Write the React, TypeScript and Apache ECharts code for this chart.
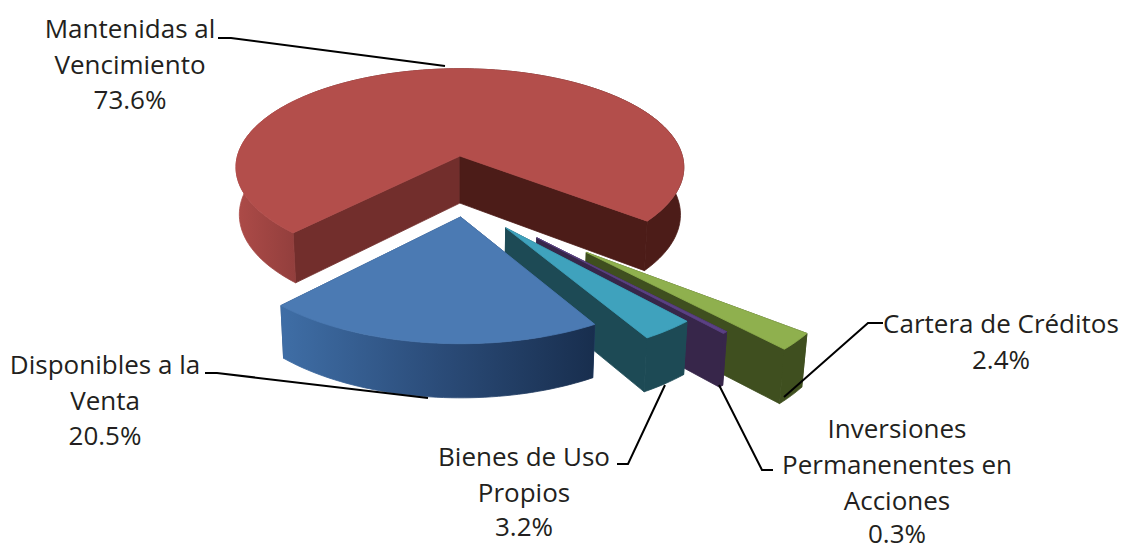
import React, { useEffect, useRef } from "react";
import * as echarts from "echarts";

const categories = [
  "Disponibles a la\nVenta",
  "Bienes de Uso\nPropios",
  "Inversiones\nPermanenentes en\nAcciones",
  "Cartera de Créditos",
  "Mantenidas al\nVencimiento",
];
const values = [20.5, 3.2, 0.3, 2.4, 73.6];

// pie styling, same order as categories
const explosion = [0.155, 0.307, 0.451, 0.668, 0.42];
const sideNudge = [0, -0.015, -0.015, -0.01, 0.009];
const drawOrder = [4, 3, 2, 1, 0];
const topColors = ["#4B7AB3", "#3FA2BD", "#5B4184", "#8FB04E", "#B34E4B"];
const wallColors = ["#2D4E7C", "#1D4A55", "#37264A", "#3F4F1F", "#4C1C18"];
const innerWallColors = ["#2D4E7C", "#1D4A55", "#37264A", "#3F4F1F", "#722E2C"];
const rimStops: [number, string][][] = [
  [[0, "#3F6EA6"], [0.5, "#2B4C79"], [1, "#182E4E"]],
  [[0, "#1D4A55"], [1, "#1D4A55"]],
  [[0, "#37264A"], [1, "#37264A"]],
  [[0, "#3F4F1F"], [1, "#3F4F1F"]],
  [[0, "#AD4B48"], [0.13, "#933F3D"], [0.2, "#722E2C"], [0.9, "#4C1C18"], [1, "#4C1C18"]],
];
const startAngle = -43.5;
const centre = [0.02, 0.42];

// projection of the tilted disc
const originX = 460;
const originY = 156;
const scale = 227;
const radius = 0.98;
const tilt = 0.437;
const perspective = 0.115;
const depth = 47;

// label layout
const labelBoxes = [
  { x: 105, y: 346, pct: 435 },
  { x: 524, y: 438, pct: 526 },
  { x: 897, y: 410, pct: 533 },
  { x: 1001, y: 305, pct: 359 },
  { x: 130, y: 10, pct: 99 },
];
const leaderLines = [
  [[205, 373], [217, 373], [428, 398]],
  [[617, 464], [628, 464], [665, 385]],
  [[773, 470], [762, 470], [719, 385]],
  [[883, 323], [868, 323], [784, 397]],
  [[218, 38], [231, 38], [445, 66]],
];
const FONT = '"Open Sans", "Noto Sans", sans-serif';

const rad = (d: number) => (d * Math.PI) / 180;

function project(X: number, Y: number, bottom: boolean): number[] {
  const f = 1 / (1 - perspective * Y);
  let sx = originX + scale * X * f;
  let sy = originY + scale * tilt * Y * f;
  if (bottom) {
    sx = originX + (sx - originX) * 0.985;
    sy += depth * (1 + (f - 1) * 0.7);
  }
  return [sx, sy];
}

function renderSlice(_params: any, api: any) {
  const value = api.value(0);
  const before = api.value(1);
  const idx = api.value(2);
  const from = startAngle + (before / 100) * 360;
  const to = from + (value / 100) * 360;
  const mid = rad((from + to) / 2);
  const ax = centre[0] + sideNudge[idx] + explosion[idx] * Math.sin(mid);
  const ay = centre[1] + explosion[idx] * Math.cos(mid);

  const steps = Math.max(2, Math.ceil((to - from) / 1.5));
  const arc = (bottom: boolean) => {
    const pts: number[][] = [];
    for (let i = 0; i <= steps; i++) {
      const a = rad(from + ((to - from) * i) / steps);
      pts.push(project(ax + radius * Math.sin(a), ay + radius * Math.cos(a), bottom));
    }
    return pts;
  };
  const topArc = arc(false);
  const botArc = arc(true);
  const apexTop = project(ax, ay, false);
  const apexBot = project(ax, ay, true);

  const poly = (points: number[][], fill: any) => ({
    type: "polygon",
    shape: { points },
    style: { fill, stroke: fill, lineWidth: 0.8 },
  });
  const rimFill = new echarts.graphic.LinearGradient(
    0, 0, 1, 0,
    rimStops[idx].map(([offset, color]) => ({ offset, color }))
  );
  return {
    type: "group",
    children: [
      poly([apexTop, topArc[steps], botArc[steps], apexBot], innerWallColors[idx]),
      poly([apexTop, topArc[0], botArc[0], apexBot], wallColors[idx]),
      poly([...topArc, ...botArc.slice().reverse()], rimFill),
      poly([apexTop, ...topArc], topColors[idx]),
    ],
  };
}

export default function App() {
  const ref = useRef<HTMLDivElement>(null);
  useEffect(() => {
    document.body.style.margin = "0";
    const chart = echarts.init(ref.current!, undefined, { renderer: "svg" });
    const cumulative = values.map((_, i) => values.slice(0, i).reduce((s, v) => s + v, 0));
    const textStyle = {
      fontFamily: FONT,
      fontSize: 26,
      fill: "#231F20",
      align: "center",
    };
    chart.setOption({
      animation: false,
      backgroundColor: "#ffffff",
      series: [
        {
          type: "custom",
          coordinateSystem: "none",
          silent: true,
          renderItem: renderSlice,
          data: drawOrder.map((i) => [values[i], cumulative[i], i]),
        },
      ],
      graphic: [
        ...leaderLines.map((points) => ({
          type: "polyline",
          shape: { points },
          style: { stroke: "#000000", lineWidth: 2, fill: "none" },
          z: 10,
        })),
        ...categories.map((name, i) => ({
          type: "text",
          x: labelBoxes[i].x,
          y: labelBoxes[i].y,
          z: 11,
          style: { ...textStyle, text: name, lineHeight: 36 },
        })),
        ...values.map((v, i) => ({
          type: "text",
          x: labelBoxes[i].x,
          y: labelBoxes[i].pct - 9,
          z: 11,
          style: { ...textStyle, text: `${v.toFixed(1)}%`, lineHeight: 18 },
        })),
      ],
    });
    return () => chart.dispose();
  }, []);
  return <div ref={ref} style={{ width: 1121, height: 550 }} />;
}
